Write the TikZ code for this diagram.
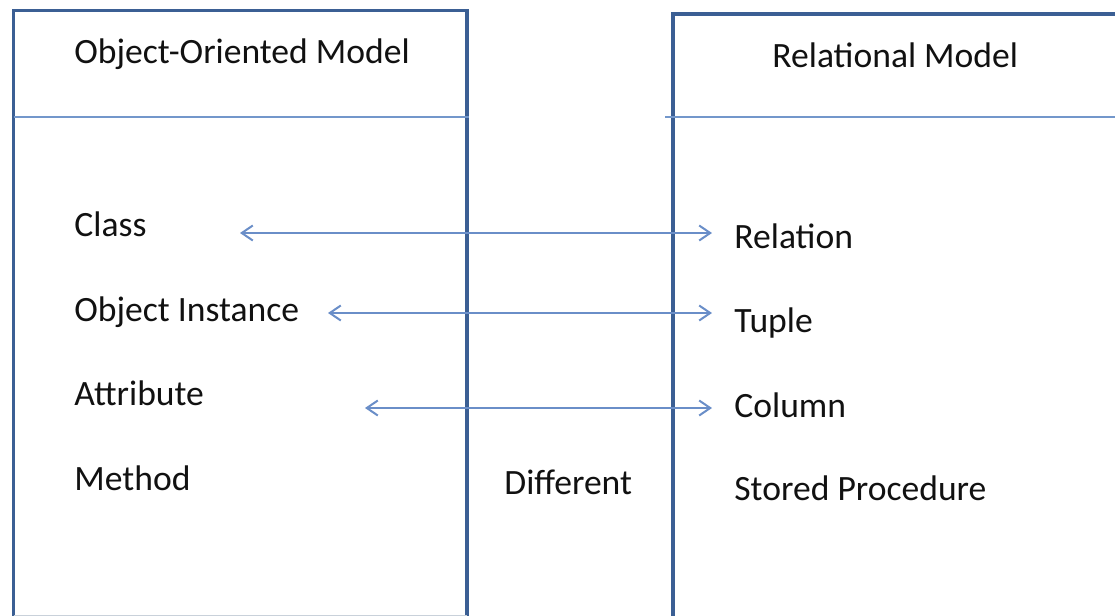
\documentclass[tikz,border=0pt]{standalone}
\usepackage{fontspec}
\setmainfont{Carlito}
\usetikzlibrary{arrows.meta, positioning}
\definecolor{boxblue}{HTML}{3B5F94}
\definecolor{lineblue}{HTML}{7397CB}
\definecolor{linkblue}{HTML}{6A8EC8}
\definecolor{textgray}{HTML}{111111}
\definecolor{edgegray}{HTML}{C9D1DA}

\begin{document}
\begin{tikzpicture}[
        x=0.5pt, y=-0.5pt,
        every node/.style={inner sep=0pt, anchor=base west, text=textgray,
            font=\fontsize{17.8}{21}\selectfont},
        frame/.style={draw=boxblue, line width=1.75pt},
        divider/.style={draw=lineblue, line width=1pt},
        maplink/.style={draw=linkblue, line width=1pt,
            {Straight Barb[length=5.5pt,width=7.5pt]}-{Straight Barb[length=5.5pt,width=7.5pt]}}
    ]
    \useasboundingbox (0,0) rectangle (1115,616);
    \clip (0,0) rectangle (1115,616);

    % Model boxes
    \draw[frame] (13.5,640) -- (13.5,10.5) -- (467,10.5) -- (467,640);
    \draw[frame] (1130,14) -- (673,14) -- (673,640);
    \draw[edgegray, line width=0.75pt] (13.5,615.5) -- (467,615.5);

    % Header dividers
    \draw[divider] (13.5,116.5) -- (469,116.5);
    \draw[divider] (665,116.5) -- (1130,116.5);

    % Headers
    \node (oohead) at (74,63) {Object-Oriented Model};
    \node (relhead) at (772,67) {Relational Model};

    % Object-oriented terms
    \node (class) at (74,236) {Class};
    \node (instance) at (74,321) {Object Instance};
    \node (attribute) at (74,405) {Attribute};
    \node (method) at (74,490) {Method};

    % Relational terms
    \node (relation) at (734,248) {Relation};
    \node (tuple) at (734,332) {Tuple};
    \node (column) at (734,417) {Column};
    \node (procedure) at (734,500) {Stored Procedure};

    % Middle label
    \node (different) at (504,494) {Different};

    % Link ends
    \coordinate (classend) at (240,233);
    \coordinate (instanceend) at (328,313);
    \coordinate (attributeend) at (365,408);
    \coordinate (relationend) at (712,233);
    \coordinate (tupleend) at (712,313);
    \coordinate (columnend) at (712,408);

    % Draw mapping arrows
    \draw[maplink] (classend) -- (relationend);
    \draw[maplink] (instanceend) -- (tupleend);
    \draw[maplink] (attributeend) -- (columnend);

\end{tikzpicture}
\end{document}
